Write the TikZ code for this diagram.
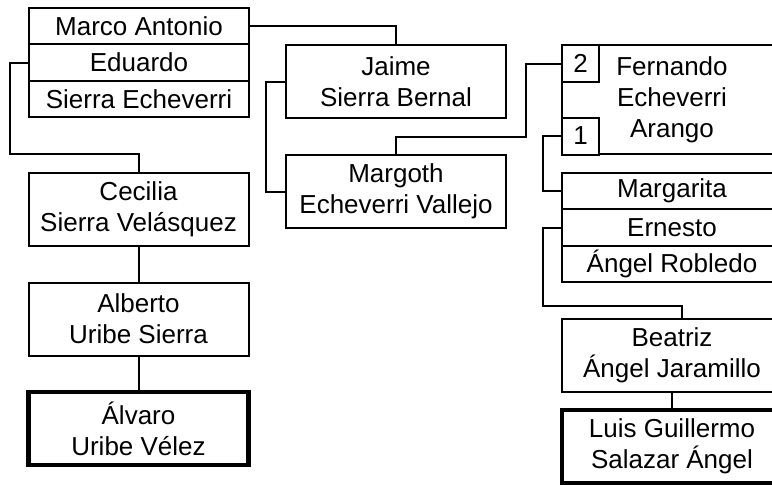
\documentclass[tikz,border=0pt]{standalone}
\usepackage{fontspec}
\setmainfont{Liberation Sans}
\usetikzlibrary{arrows}

\begin{document}
\begin{tikzpicture}[line cap=rect,line join=miter,x=1pt,y=-1pt,line width=2pt,
  persona/.style={draw=black,fill=white,line width=2pt,minimum width=220pt,minimum height=73pt,
    inner sep=0pt,align=center,font=\fontsize{26}{31}\selectfont},
  fila/.style={persona,minimum height=36.5pt},
  clave/.style={persona,line width=4.5pt},
  numero/.style={persona,minimum width=37pt,minimum height=37pt}]
\useasboundingbox (0,0) rectangle (772,485);
\clip (0,0) rectangle (772,485);
\node[fila] (marco) at (139,26) {Marco Antonio};
\node[fila] (eduardo) at (139,62.5) {Eduardo};
\node[fila] (sierraE) at (139,99) {Sierra Echeverri};
\node[persona] (jaime) at (396,81.5) {Jaime\\Sierra Bernal};
\node[persona] (margoth) at (396,191.5) {Margoth\\Echeverri Vallejo};
\node[persona,minimum height=109pt] (fernando) at (672,99.5) {Fernando\\Echeverri\\Arango};
\node[numero] (num2) at (580.5,63.5) {2};
\node[numero] (num1) at (580.5,136) {1};
\node[fila] (margarita) at (672,191) {Margarita};
\node[fila] (ernesto) at (672,227.5) {Ernesto};
\node[fila] (angelR) at (672,264) {Ángel Robledo};
\node[persona] (beatriz) at (672,355.5) {Beatriz\\Ángel Jaramillo};
\node[clave] (luis) at (672,446.5) {Luis Guillermo\\Salazar Ángel};
\node[persona] (cecilia) at (138.5,209.5) {Cecilia\\Sierra Velásquez};
\node[persona] (alberto) at (138.5,319) {Alberto\\Uribe Sierra};
\node[clave] (alvaro) at (138.5,428.5) {Álvaro\\Uribe Vélez};
\coordinate (c1) at (10,154);
\coordinate (c2) at (526,137);
\coordinate (c3) at (543,306);
\draw (marco.east) -| (jaime.north);
\draw (eduardo.west) -| (c1) -| (cecilia.north);
\draw (jaime.west) -- ++(-19,0) |- (margoth.west);
\draw (margoth.north) |- (c2) |- (num2.west);
\draw (num1.west) -- ++(-18,0) |- (margarita.west);
\draw (ernesto.west) -| (c3) -| ([xshift=10pt]beatriz.north);
\draw (beatriz.south) -- (luis.north);
\draw (cecilia.south) -- (alberto.north);
\draw (alberto.south) -- (alvaro.north);
\end{tikzpicture}
\end{document}
